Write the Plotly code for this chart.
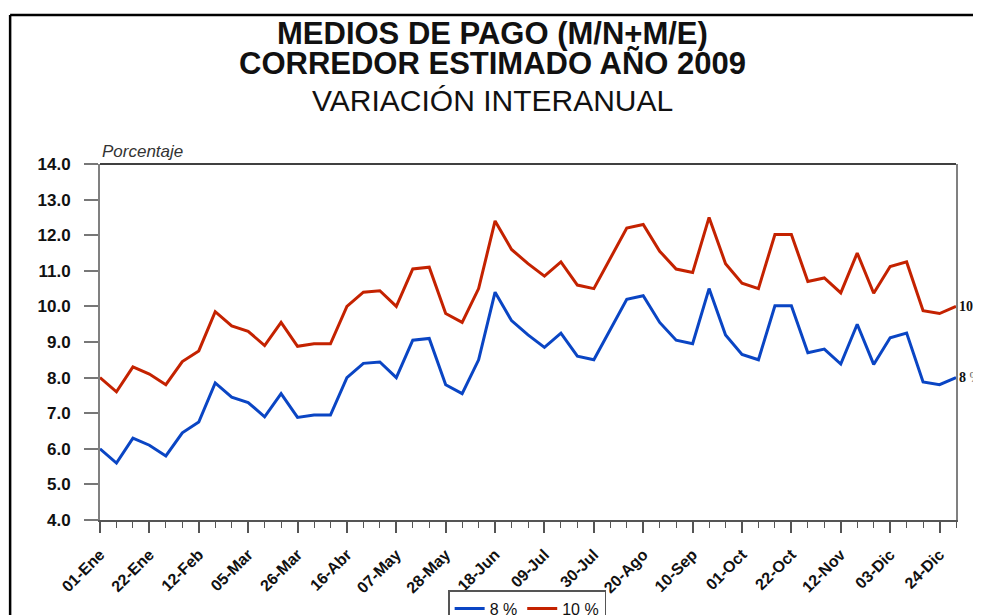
import pandas as pd
import plotly.graph_objects as go

# Weekly observations for 2009 (01-Ene ... 31-Dic)
fechas = pd.date_range("2009-01-01", periods=53, freq="7D")

serie_8 = [6.0, 5.6, 6.3, 6.1, 5.8, 6.45, 6.75, 7.85, 7.45, 7.3,
           6.9, 7.55, 6.88, 6.95, 6.95, 8.0, 8.4, 8.44, 8.0, 9.05,
           9.1, 7.8, 7.55, 8.5, 10.4, 9.6, 9.2, 8.85, 9.25, 8.6,
           8.5, 9.35, 10.2, 10.3, 9.55, 9.05, 8.95, 10.5, 9.2, 8.65,
           8.5, 10.02, 10.02, 8.7, 8.8, 8.38, 9.5, 8.37, 9.12, 9.25,
           7.88, 7.8, 8.0]

serie_10 = [8.0, 7.6, 8.3, 8.1, 7.8, 8.45, 8.75, 9.85, 9.45, 9.3,
            8.9, 9.55, 8.88, 8.95, 8.95, 10.0, 10.4, 10.44, 10.0, 11.05,
            11.1, 9.8, 9.55, 10.5, 12.4, 11.6, 11.2, 10.85, 11.25, 10.6,
            10.5, 11.35, 12.2, 12.3, 11.55, 11.05, 10.95, 12.5, 11.2, 10.65,
            10.5, 12.02, 12.02, 10.7, 10.8, 10.38, 11.5, 10.37, 11.12, 11.25,
            9.88, 9.8, 10.0]

nombres = ["8 %", "10 %"]
etiquetas_x = ["01-Ene", "22-Ene", "12-Feb", "05-Mar", "26-Mar", "16-Abr",
               "07-May", "28-May", "18-Jun", "09-Jul", "30-Jul", "20-Ago",
               "10-Sep", "01-Oct", "22-Oct", "12-Nov", "03-Dic", "24-Dic"]
valores_y = [4, 5, 6, 7, 8, 9, 10, 11, 12, 13, 14]

titulo1 = "MEDIOS DE PAGO (M/N+M/E)"
titulo2 = "CORREDOR ESTIMADO AÑO 2009"
titulo3 = "VARIACIÓN INTERANUAL"
eje_y = "Porcentaje"

AZUL = "#0A45C4"
ROJO = "#C42200"

fig = go.Figure()
fig.add_trace(go.Scatter(x=fechas, y=serie_8, mode="lines", name=nombres[0],
                         line=dict(color=AZUL, width=3)))
fig.add_trace(go.Scatter(x=fechas, y=serie_10, mode="lines", name=nombres[1],
                         line=dict(color=ROJO, width=3)))

tickvals = list(fechas[::3])[:len(etiquetas_x)]

fig.update_layout(
    width=973, height=607,
    margin=dict(l=92, r=25, t=156, b=95, autoexpand=False),
    paper_bgcolor="white", plot_bgcolor="white",
    font=dict(family="Arial, Liberation Sans, sans-serif", color="#111"),
    showlegend=True,
    legend=dict(orientation="h", x=0.499, xanchor="center", y=-0.197, yanchor="top",
                bgcolor="white", bordercolor="#555", borderwidth=1.5,
                font=dict(size=16, color="#111"), itemwidth=30,
                tracegroupgap=0),
    xaxis=dict(
        range=[fechas[0], fechas[-1]],
        tickmode="array", tickvals=tickvals, ticktext=etiquetas_x,
        tickangle=-45, ticks="outside", ticklen=11, tickwidth=1.5, tickcolor="#555",
        tickfont=dict(size=16, family="Arial, sans-serif", weight="bold", color="#111"),
        ticklabelstandoff=6,
        showline=True, linecolor="#555", linewidth=2, mirror=False,
        showgrid=False, zeroline=False, automargin=False,
        minor=dict(tickmode="linear", tick0=fechas[0], dtick=7 * 86400000,
                   ticks="outside", ticklen=6, tickwidth=1.2, tickcolor="#555",
                   showgrid=False),
    ),
    yaxis=dict(
        range=[4, 14], tickmode="array", tickvals=valores_y, tickformat=".1f",
        ticks="outside", ticklen=14, tickwidth=1.5, tickcolor="#777",
        tickfont=dict(size=17, family="Arial, sans-serif", weight="bold", color="#111"),
        ticklabelstandoff=10,
        showline=True, linecolor="#808080", linewidth=2, mirror=True,
        showgrid=False, zeroline=False, automargin=False,
    ),
    shapes=[
        # top border of plot area (black)
        dict(type="line", xref="paper", yref="paper", x0=0, x1=1, y0=1, y1=1,
             line=dict(color="black", width=1.5)),
        # outer chart frame
        dict(type="line", xref="paper", yref="paper", x0=-0.105, x1=1.1, y0=1.4185, y1=1.4185,
             line=dict(color="black", width=2.5)),
        dict(type="line", xref="paper", yref="paper", x0=-0.105, x1=-0.105, y0=1.4185, y1=-0.4,
             line=dict(color="black", width=2.5)),
    ],
)

anns = [
    dict(text=titulo1, x=0.458, y=1.367, font=dict(size=31, weight="bold")),
    dict(text=titulo2, x=0.458, y=1.2837, font=dict(size=31, weight="bold")),
    dict(text=titulo3, x=0.458, y=1.177, font=dict(size=30)),
]
for a in anns:
    fig.add_annotation(xref="paper", yref="paper", x=a["x"], y=a["y"], text=a["text"],
                       showarrow=False, xanchor="center", yanchor="middle",
                       font=dict(family="Arial, sans-serif", color="#111", **a["font"]))

fig.add_annotation(xref="paper", yref="paper", x=0, y=1.0365, text=eje_y,
                   showarrow=False, xanchor="left", yanchor="middle",
                   font=dict(family="Arial, sans-serif", size=17, style="italic", color="#333"))

for nombre, serie in zip(nombres, [serie_8, serie_10]):
    num = nombre.split(" ")[0]
    fig.add_annotation(x=fechas[-1], y=serie[-1], xref="x", yref="y",
                       text=f"<b>{num}</b> <span style='color:#666'>%</span>",
                       showarrow=False, xanchor="left", yanchor="middle", xshift=1,
                       font=dict(family="Liberation Serif, Times New Roman, serif", size=14, color="#111"))

fig.write_html("out.html")
